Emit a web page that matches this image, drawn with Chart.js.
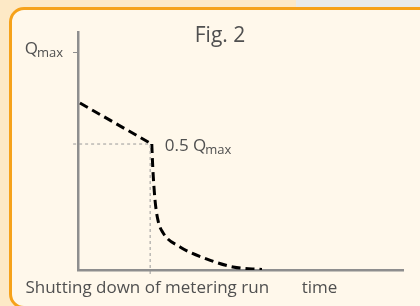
<!DOCTYPE html>
<html>
<head>
<meta charset="utf-8">
<script src="https://cdn.jsdelivr.net/npm/chart.js@4"></script>
<style>
  html, body { margin: 0; padding: 0; }
  body { width: 420px; height: 306px; overflow: hidden; position: relative; background: #fde9c6; }
  #topGray { position: absolute; left: 296px; top: 0; width: 124px; height: 8px; background: #e9ebeb; }
  #box { position: absolute; left: 9px; top: 7px; width: 440px; height: 302px; box-sizing: border-box;
         border: 3px solid #f6a21a; border-radius: 15px; background: #fff8eb; }
  #wrap { position: absolute; left: 0; top: 0; width: 420px; height: 306px; }
</style>
</head>
<body>
<div id="topGray"></div>
<div id="box"></div>
<div id="wrap"><canvas id="fig2"></canvas></div>
<script>
const titleText = 'Fig. 2';

// falling part before shutdown
const slopeX = [0.6, 22.7];
const slopeY = [0.766, 0.578];

// decay after shutdown
const decayX = [22.7, 23.0, 23.7, 24.6, 26.2, 31.4, 39.7, 47.7, 56.6];
const decayY = [0.578, 0.472, 0.321, 0.229, 0.170, 0.106, 0.050, 0.014, 0.002];

// thin dashed helper lines
const guideX = [-1.5, 22.2, 22.2];
const guideY = [0.578, 0.578, -0.032];

const yTicks = [1];
const yTickLabels = [['Q', 'max']];
const halfLabel = ['0.5 Q', 'max'];

const xTicks = [21.3, 74.3];
const xTickLabels = ['Shutting down of metering run', 'time'];

const textColor = '#505050';
const axisColor = '#8e8e8e';
const fontFam = '"Open Sans", sans-serif';

function pts(xs, ys) {
    return xs.map((v, i) => ({ x: v, y: ys[i] }));
}

function drawSub(ctx, main, sub, x, y, align) {
    ctx.font = '17px ' + fontFam;
    const w1 = ctx.measureText(main).width;
    ctx.font = '13px ' + fontFam;
    const w2 = ctx.measureText(sub).width;
    let left = align === 'right' ? x - w1 - w2 : x;
    ctx.textAlign = 'left';
    ctx.font = '17px ' + fontFam;
    ctx.fillText(main, left, y);
    ctx.font = '13px ' + fontFam;
    ctx.fillText(sub, left + w1 - 1, y + 3);
}

const textPlugin = {
    id: 'figText',
    afterDraw(chart) {
        const ctx = chart.ctx;
        const xs = chart.scales.x, ys = chart.scales.y;
        ctx.save();
        ctx.fillStyle = textColor;
        ctx.textBaseline = 'alphabetic';

        ctx.font = '21px ' + fontFam;
        ctx.textAlign = 'center';
        ctx.fillText(titleText, 220, 42);

        yTicks.forEach((v, i) => {
            drawSub(ctx, yTickLabels[i][0], yTickLabels[i][1], xs.left - 14, ys.getPixelForValue(v) + 2, 'right');
        });

        const cx = xs.getPixelForValue(slopeX[1]);
        const cy = ys.getPixelForValue(slopeY[1]);
        drawSub(ctx, halfLabel[0], halfLabel[1], cx + 13, cy + 7, 'left');
        ctx.restore();
    }
};

const ctx = document.getElementById('fig2').getContext('2d');

new Chart(ctx, {
    type: 'line',
    data: {
        datasets: [{
            data: pts(guideX, guideY),
            borderColor: '#999999',
            borderWidth: 1,
            borderDash: [3, 3],
            pointRadius: 0,
            tension: 0,
            clip: false
        }, {
            data: pts(slopeX, slopeY),
            borderColor: '#000000',
            borderWidth: 3,
            borderDash: [9, 5],
            pointRadius: 0,
            tension: 0
        }, {
            data: pts(decayX, decayY),
            borderColor: '#000000',
            borderWidth: 3,
            borderDash: [9, 5],
            pointRadius: 0,
            cubicInterpolationMode: 'monotone'
        }]
    },
    options: {
        responsive: true,
        maintainAspectRatio: false,
        animation: false,
        layout: { padding: { top: 32, right: 17, left: 0, bottom: 0 } },
        plugins: {
            legend: { display: false },
            tooltip: { enabled: false },
            title: { display: false }
        },
        scales: {
            x: {
                type: 'linear',
                min: 0,
                max: 100,
                afterFit: (s) => { s.height = 36; },
                afterBuildTicks: (s) => { s.ticks = xTicks.map(v => ({ value: v })); },
                grid: { display: false },
                border: { display: true, color: axisColor, width: 2.5 },
                ticks: {
                    autoSkip: false,
                    maxRotation: 0,
                    padding: 0,
                    color: textColor,
                    font: { family: 'Open Sans', size: 17 },
                    callback: (v, i) => xTickLabels[i]
                }
            },
            y: {
                type: 'linear',
                min: 0,
                max: 1.092,
                afterFit: (s) => { s.width = 78; },
                afterBuildTicks: (s) => { s.ticks = yTicks.map(v => ({ value: v })); },
                grid: { drawOnChartArea: false, drawTicks: true, tickLength: 5, color: axisColor, lineWidth: 1 },
                border: { display: true, color: axisColor, width: 2.5 },
                ticks: { display: true, callback: () => '' }
            }
        }
    },
    plugins: [textPlugin]
});
</script>
</body>
</html>
